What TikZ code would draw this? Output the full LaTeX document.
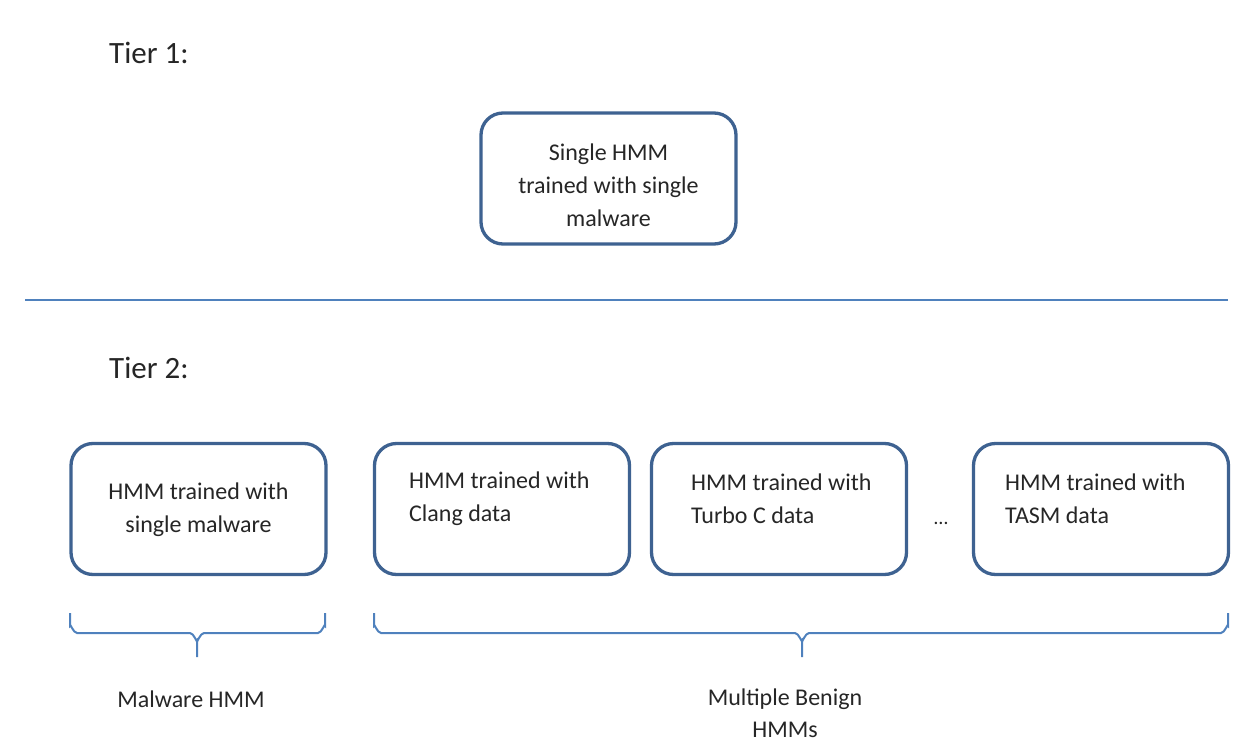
\documentclass[tikz,border=0pt]{standalone}
\usepackage{fontspec}
\setmainfont{Carlito}
\definecolor{boxblue}{RGB}{62,98,145}
\definecolor{lineblue}{RGB}{79,129,189}
\definecolor{txt}{RGB}{38,38,38}
\begin{document}
\begin{tikzpicture}[x=1pt,y=-1pt,
  hmmbox/.style={draw=boxblue,line width=3.3pt,rounded corners=22pt,minimum width=255pt,minimum height=131pt,fill=white,inner sep=0pt},
  boxtext/.style={font=\fontsize{24}{33}\selectfont,text=txt,inner sep=0pt},
  tiertext/.style={font=\fontsize{31}{36}\selectfont,text=txt,inner sep=0pt,anchor=west},
  brace/.style={draw=lineblue,line width=2pt}]
\useasboundingbox (0,0) rectangle (1248,744);
% Tier 1
\node[tiertext] (tier1) at (109,53) {Tier 1:};
\node[hmmbox] (top) at (608.5,178.5) {};
\node[boxtext,align=center] (toptxt) at (608.5,185) {Single HMM\\trained with single\\malware};
% separator
\coordinate (sepL) at (25,300);
\coordinate (sepR) at (1228,300);
\draw[draw=lineblue,line width=2pt] (sepL) -- (sepR);
% Tier 2
\node[tiertext] (tier2) at (109,368) {Tier 2:};
\node[hmmbox] (b1) at (198.5,509) {};
\node[boxtext,align=center] (t1) at (198.5,510) {HMM trained with\\single malware};
\node[hmmbox] (b2) at (502,509) {};
\node[boxtext,align=left,anchor=west] (t2) at (409,499) {HMM trained with\\Clang data};
\node[hmmbox] (b3) at (779,509) {};
\node[boxtext,align=left,anchor=west] (t3) at (691,499) {HMM trained with\\Turbo C data};
\node[boxtext,font=\fontsize{20}{24}\selectfont] (dots) at (941,523) {\dots};
\node[hmmbox] (b4) at (1101,509) {};
\node[boxtext,align=left,anchor=west] (t4) at (1005,499) {HMM trained with\\TASM data};
% braces
\draw[brace] (70,613) -- (70,626) to[out=90,in=180] (77,633) -- (190,633) to[out=0,in=-90] (197,640) -- (197,657);
\draw[brace] (197,640) to[out=-90,in=180] (204,633) -- (318,633) to[out=0,in=90] (325,626) -- (325,613);
\draw[brace] (374,613) -- (374,626) to[out=90,in=180] (381,633) -- (795,633) to[out=0,in=-90] (802,640) -- (802,657);
\draw[brace] (802,640) to[out=-90,in=180] (809,633) -- (1221,633) to[out=0,in=90] (1228,626) -- (1228,613);
\node[boxtext] (lab1) at (191,699) {Malware HMM};
\node[boxtext,align=center,font=\fontsize{24}{32}\selectfont] (lab2) at (785,713) {Multiple Benign\\HMMs};
\end{tikzpicture}
\end{document}
